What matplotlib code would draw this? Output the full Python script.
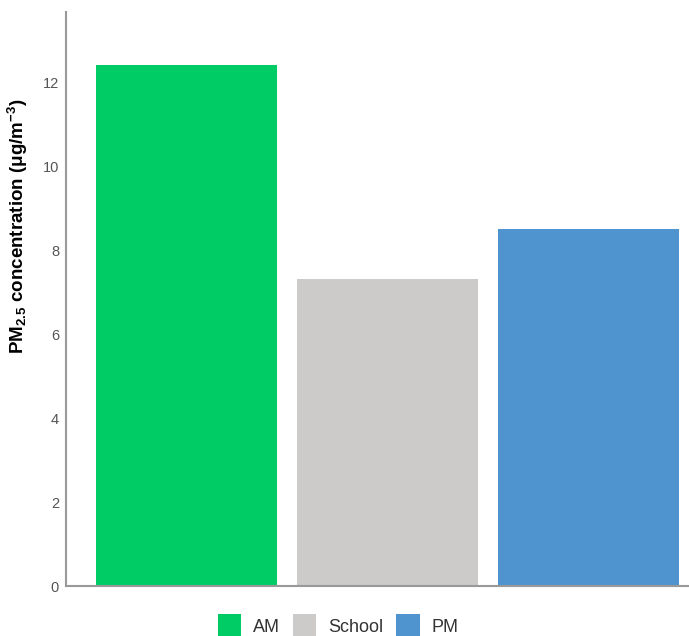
import matplotlib
matplotlib.use("Agg")
import matplotlib.pyplot as plt
from matplotlib.patches import Patch

# PM2.5 by period of the day
periods = ["AM", "School", "PM"]
pm25 = [12.4, 7.3, 8.5]
colors = ["#00CC66", "#CDCACA", "#4F94CF"]

plt.rcParams['font.family'] = ['Liberation Sans', 'DejaVu Sans']
plt.rcParams['mathtext.default'] = 'regular'

fig = plt.figure(figsize=(6.89, 6.36), dpi=100)
ax = fig.add_axes([0.0958, 0.0786, 0.9042, 0.9025])

x = list(range(len(periods)))
ax.bar(x, pm25, width=0.9, color=colors)

ax.set_xlim(-0.6, 2.5)
ax.set_ylim(0, 13.67)
ax.set_yticks([0, 2, 4, 6, 8, 10, 12])
ax.set_xticks([])
ax.tick_params(axis='y', length=0, labelsize=10.5, labelcolor='#555555', pad=5)

for s in ["top", "right"]:
    ax.spines[s].set_visible(False)
for s in ["left", "bottom"]:
    ax.spines[s].set_color("#999999")
    ax.spines[s].set_linewidth(1.5)

ax.set_ylabel("PM$_{2.5}$ concentration (μg/m$^{-3}$)", fontsize=13.5,
              fontweight='bold')
ax.yaxis.set_label_coords(-0.058, 0.627)

handles = [Patch(facecolor=c, label=p) for p, c in zip(periods, colors)]
fig.legend(handles=handles, loc='center', bbox_to_anchor=(0.491, 0.016),
           ncol=3, frameon=False, fontsize=13, handlelength=1.3,
           handleheight=1.6, columnspacing=0.7, handletextpad=0.67,
           labelcolor='#333333')

fig.savefig("out.png", dpi=100)
